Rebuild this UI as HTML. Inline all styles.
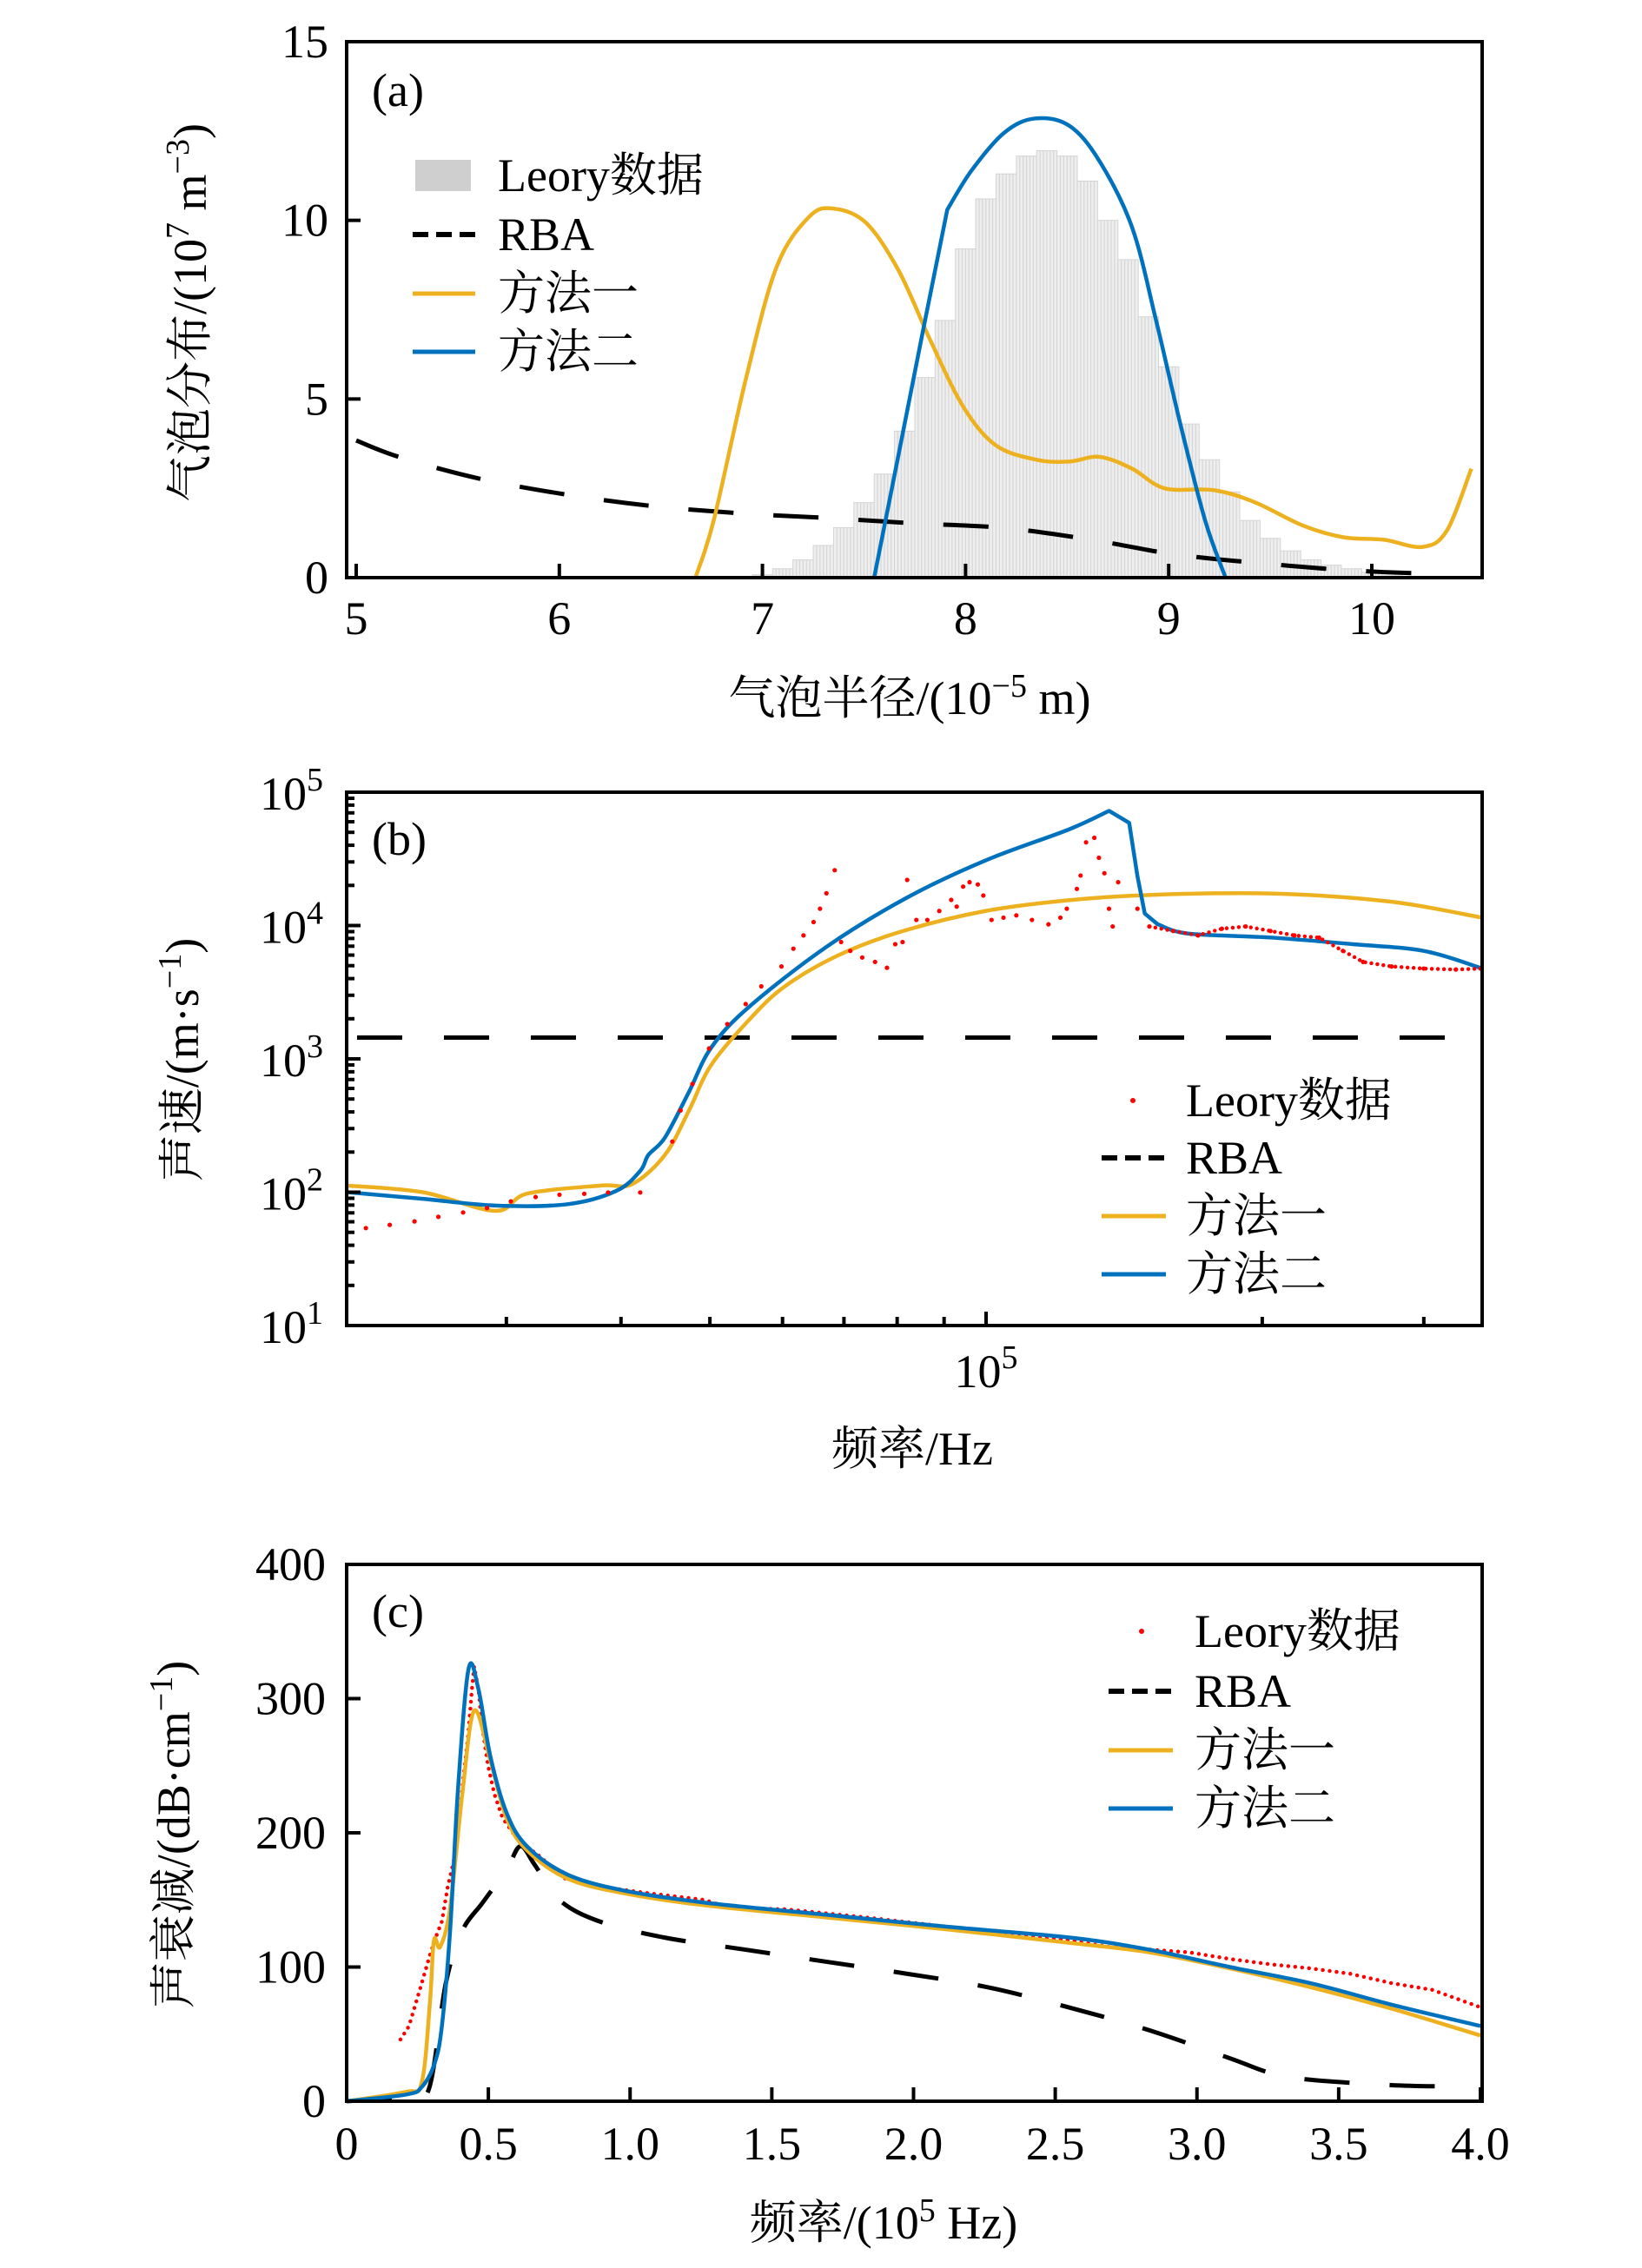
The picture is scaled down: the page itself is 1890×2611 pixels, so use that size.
<!DOCTYPE html>
<html><head><meta charset="utf-8"><style>
html,body{margin:0;padding:0;background:#fff;}
svg{display:block;}
text{font-family:"Liberation Serif","Noto Serif CJK SC",serif;fill:#000;}
</style></head><body>
<svg id="fig" width="1890" height="2611" viewBox="0 0 1890 2611" xmlns="http://www.w3.org/2000/svg">
<g id="pa"></g>
<g id="pb"></g>
<g id="pc"></g>
</svg>
<script>
// ---------- Panel (a) data ----------
const histRadius=[6.9,7.0,7.1,7.2,7.3,7.4,7.5,7.6,7.7,7.8,7.9,8.0,8.1,8.2,8.3,8.4,8.5,8.6,8.7,8.8,8.9,9.0,9.1,9.2,9.3,9.4,9.5,9.6,9.7,9.8,9.9,10.0,10.1,10.2];
const histValue=[0.02,0.08,0.25,0.5,0.9,1.4,2.1,2.9,4.1,5.6,7.2,9.2,10.6,11.3,11.8,11.95,11.8,11.1,10.0,8.9,7.3,5.9,4.3,3.3,2.4,1.6,1.1,0.75,0.5,0.35,0.25,0.15,0.08,0.03];
const aRbaX=[5,5.21,5.6,6.04,6.48,6.92,7.35,7.75,8.19,8.62,9.02,9.46,9.9,10.33];
const aRbaY=[3.84,3.38,2.78,2.32,1.99,1.79,1.66,1.52,1.39,1.06,0.66,0.40,0.2,0.1];
const aM1X=[6.67,6.76,6.92,7.07,7.23,7.35,7.51,7.67,7.83,7.99,8.15,8.35,8.51,8.66,8.82,8.98,9.22,9.42,9.66,9.86,10.06,10.25,10.37,10.49];
const aM1Y=[0,1.6,5.6,8.7,10.1,10.33,9.93,8.6,6.6,4.77,3.7,3.3,3.25,3.38,3.05,2.5,2.45,2.12,1.46,1.13,1.06,0.86,1.32,3.05];
const aM2X=[7.55,7.67,7.79,7.91,8.03,8.19,8.34,8.51,8.66,8.82,8.94,9.06,9.18,9.28];
const aM2Y=[0,3.44,6.9,10.3,11.4,12.45,12.85,12.65,11.65,9.8,7.15,4.24,1.59,0];
const aXTicks=[5,6,7,8,9,10];
const aYTicks=[0,5,10,15];
// ---------- Panel (b) data (log10 frequency / log10 speed) ----------
const bM1LogF=[4.304,4.386,4.465,4.5,4.58,4.614,4.65,4.676,4.70,4.74,4.78,4.84,4.91,5.0,5.09,5.18,5.31,5.44,5.54];
const bM1LogV=[2.05,2.0,1.86,1.99,2.05,2.06,2.28,2.61,2.95,3.28,3.54,3.78,3.96,4.11,4.19,4.23,4.24,4.18,4.06];
const bM2LogF=[4.304,4.386,4.465,4.544,4.597,4.623,4.632,4.65,4.676,4.70,4.74,4.826,4.914,5.0,5.09,5.134,5.156,5.165,5.173,5.187,5.22,5.31,5.40,5.477,5.54];
const bM2LogV=[2.0,1.95,1.9,1.91,2.01,2.16,2.28,2.41,2.75,3.08,3.38,3.84,4.21,4.49,4.72,4.86,4.77,4.37,4.09,4.01,3.94,3.91,3.86,3.81,3.68];
const bRbaSpeed=1445;
const bDataLogF=[4.324,4.350,4.377,4.403,4.430,4.456,4.482,4.509,4.535,4.562,4.588,4.623,4.658,4.667,4.680,4.698,4.718,4.738,4.755,4.777,4.790,4.801,4.812,4.819,4.826,4.835,4.842,4.852,4.865,4.879,4.892,4.901,4.909,4.914,4.924,4.936,4.949,4.962,4.968,4.975,4.982,4.991,4.997,5.006,5.019,5.033,5.050,5.068,5.081,5.088,5.099,5.103,5.109,5.118,5.123,5.129,5.134,5.138,5.144,5.165,5.178,5.204,5.231,5.257,5.283,5.310,5.336,5.363,5.389,5.411,5.442,5.477,5.512,5.539];
const bDataLogV=[1.731,1.755,1.781,1.815,1.848,1.881,1.931,1.964,1.981,1.988,1.998,1.998,2.380,2.613,2.812,3.078,3.261,3.411,3.544,3.693,3.826,3.926,4.026,4.126,4.242,4.415,3.876,3.810,3.760,3.727,3.683,3.860,3.876,4.342,4.042,4.042,4.109,4.192,4.142,4.292,4.325,4.308,4.225,4.042,4.059,4.076,4.042,4.009,4.059,4.126,4.275,4.375,4.624,4.658,4.508,4.392,4.126,3.993,4.325,4.126,3.993,3.959,3.926,3.976,3.993,3.959,3.926,3.909,3.810,3.727,3.693,3.677,3.670,3.677];
const bYTicks=[1,2,3,4,5];
const bXMinor=[30000,40000,50000,60000,70000,80000,90000,200000,300000];
// ---------- Panel (c) data ----------
const cM2X=[0,0.21,0.265,0.31,0.336,0.365,0.393,0.43,0.465,0.507,0.564,0.636,0.778,0.978,1.263,1.69,2.12,2.55,2.83,3.116,3.4,3.686,4.0];
const cM2Y=[0,5,10.6,28,56,127,233,322,307,257,215,190,169,157,148,139,130,122,113,100,88,72,56];
const cM1X=[0,0.21,0.265,0.294,0.308,0.33,0.365,0.408,0.45,0.507,0.564,0.636,0.778,0.978,1.263,1.69,2.12,2.55,2.83,3.116,3.4,3.686,4.0];
const cM1Y=[0,7,14,74,120,115,144,229,291,254,211,187,166,155,146,137,128,118,111,99,85,69,49];
const cRbaX=[0,0.21,0.29,0.35,0.408,0.48,0.565,0.613,0.664,0.75,0.892,1.12,1.405,1.69,1.976,2.26,2.546,2.83,3.116,3.26,3.4,3.686,3.886];
const cRbaY=[0,3.5,9,88,127,148,173,190,176,150,134,122,113,104,95,85,70,53,32,21,16,12,11];
const cDataX=[0.19,0.22,0.265,0.294,0.316,0.336,0.356,0.379,0.393,0.413,0.43,0.442,0.45,0.465,0.479,0.499,0.521,0.55,0.607,0.678,0.77,0.89,1.063,1.263,1.35,1.55,1.83,2.12,2.26,2.55,2.69,2.83,2.97,3.116,3.26,3.4,3.54,3.686,3.83,4.0];
const cDataY=[46,56,88,109,123,134,159,180,201,243,275,307,324,307,278,250,229,211,194,183,166,160,155,150,144,143,137,130,125,120,115,113,111,106,102,99,95,88,83,70];
const cXTicks=[0,0.5,1.0,1.5,2.0,2.5,3.0,3.5,4.0];
const cXLabels=["0","0.5","1.0","1.5","2.0","2.5","3.0","3.5","4.0"];
const cYTicks=[0,100,200,300,400];

const NS="http://www.w3.org/2000/svg";
const ORANGE="#EDB120",BLUE="#0072BD";
function mk(parent,tag,attrs){const e=document.createElementNS(NS,tag);for(const k in attrs)e.setAttribute(k,attrs[k]);parent.appendChild(e);return e;}
function txt(parent,x,y,s,size,anchor){const t=mk(parent,"text",{x:x,y:y,"font-size":size,"text-anchor":anchor||"middle"});t.textContent=s;return t;}
function smoothSeg(pts,move){let d=move?"M"+pts[0][0]+","+pts[0][1]:"";for(let i=0;i<pts.length-1;i++){const p0=pts[i-1]||pts[i],p1=pts[i],p2=pts[i+1],p3=pts[i+2]||p2;const c1x=p1[0]+(p2[0]-p0[0])/6,c1y=p1[1]+(p2[1]-p0[1])/6,c2x=p2[0]-(p3[0]-p1[0])/6,c2y=p2[1]-(p3[1]-p1[1])/6;d+=" C"+c1x+","+c1y+" "+c2x+","+c2y+" "+p2[0]+","+p2[1];}return d;}
function smooth(pts){return smoothSeg(pts,true);}
function poly(pts){return "M"+pts.map(p=>p[0]+","+p[1]).join(" L");}
const L=399,R=1706;

// ================= Panel A =================
(function(){
const g=document.getElementById("pa");
const T=48,B=665;
const sx=v=>410+(v-5)*233.8, sy=v=>B-(v/15)*(B-T);
const bars=mk(g,"g",{});


histRadius.forEach((r,i)=>{
  const x0=sx(r-0.05),x1=sx(r+0.05);
  const b=mk(bars,"rect",{x:x0,y:sy(histValue[i]),width:x1-x0,height:B-sy(histValue[i]),fill:"#eeeeee",stroke:"#d4d4d4","stroke-width":1});
  
  
  for(let k=1;k<6;k++){mk(bars,"line",{x1:x0+(x1-x0)*k/6,x2:x0+(x1-x0)*k/6,y1:sy(histValue[i]),y2:B,stroke:"#d6d6d6","stroke-width":1.2});}
});
const rba=mk(g,"path",{d:smooth(aRbaX.map((v,i)=>[sx(v),sy(aRbaY[i])])),fill:"none",stroke:"#000","stroke-width":5,"stroke-dasharray":"52 46"});


const m1=mk(g,"path",{d:smooth(aM1X.map((v,i)=>[sx(v),sy(aM1Y[i])])),fill:"none",stroke:ORANGE,"stroke-width":4.5});


const p2=aM2X.map((v,i)=>[sx(v),sy(aM2Y[i])]);
const m2=mk(g,"path",{d:poly(p2.slice(0,4))+smoothSeg(p2.slice(3),false),fill:"none",stroke:BLUE,"stroke-width":4.5,"stroke-linejoin":"round"});


const fr=mk(g,"rect",{x:L,y:T,width:R-L,height:B-T,fill:"none",stroke:"#000","stroke-width":4});


aXTicks.forEach(v=>{mk(g,"line",{x1:sx(v),x2:sx(v),y1:B,y2:B-16,stroke:"#000","stroke-width":4});
  const t=txt(g,sx(v),730,String(v),54);});
aYTicks.forEach(v=>{mk(g,"line",{x1:L,x2:L+16,y1:sy(v),y2:sy(v),stroke:"#000","stroke-width":4});
  const t=txt(g,378,sy(v)+18,String(v),54,"end");});
const xt=mk(g,"text",{x:1047,y:822,"font-size":54,"text-anchor":"middle"});
xt.innerHTML='气泡半径/(10<tspan dy="-20" font-size="38">−5</tspan><tspan dy="20"> m)</tspan>';


const yt=mk(g,"text",{x:0,y:0,"font-size":54,"text-anchor":"middle",transform:"translate(237,360) rotate(-90)"});
yt.innerHTML='气泡分布/(10<tspan dy="-20" font-size="38">7</tspan><tspan dy="20"> m</tspan><tspan dy="-20" font-size="38">−3</tspan><tspan dy="20">)</tspan>';


const pl=txt(g,428,122,"(a)",54,"start");
const lg=mk(g,"g",{});
mk(lg,"rect",{x:478,y:184,width:64,height:36,fill:"#cfcfcf"});
mk(lg,"line",{x1:475,x2:547,y1:270,y2:270,stroke:"#000","stroke-width":6,"stroke-dasharray":"18 9"});
mk(lg,"line",{x1:475,x2:547,y1:338,y2:338,stroke:ORANGE,"stroke-width":5});
mk(lg,"line",{x1:475,x2:547,y1:405,y2:405,stroke:BLUE,"stroke-width":5});
["Leory数据","RBA","方法一","方法二"].forEach((s,i)=>{const t=txt(lg,573,[220,288,356,423][i],s,54,"start");});
})();

// ================= Panel B =================
(function(){
const g=document.getElementById("pb");
const T=912,B=1526;
const sx=lf=>1135+(lf-5)*1056, sy=lv=>B-(lv-1)*(B-T)/4;
const rba=mk(g,"line",{x1:L+12,x2:R-25,y1:sy(Math.log10(bRbaSpeed)),y2:sy(Math.log10(bRbaSpeed)),stroke:"#000","stroke-width":5,"stroke-dasharray":"52 48"});


const m1=mk(g,"path",{d:smooth(bM1LogF.map((v,i)=>[sx(v),sy(bM1LogV[i])])),fill:"none",stroke:ORANGE,"stroke-width":4.5});


const q=bM2LogF.map((v,i)=>[sx(v),sy(bM2LogV[i])]);
const m2d=smooth(q.slice(0,16))+" L"+q.slice(16,20).map(p=>p[0]+","+p[1]).join(" L")+smoothSeg(q.slice(19),false);
const m2=mk(g,"path",{d:m2d,fill:"none",stroke:BLUE,"stroke-width":4.5,"stroke-linejoin":"round"});


const dots=mk(g,"g",{fill:"#ff0000"});


bDataLogF.forEach((v,i)=>{const c=mk(dots,"circle",{cx:sx(v),cy:sy(bDataLogV[i]),r:2.6});
  
  });
const dl=mk(g,"path",{d:poly(bDataLogF.slice(60).map((v,i)=>[sx(v),sy(bDataLogV[60+i])])),fill:"none",stroke:"#ff0000","stroke-width":4.5,"stroke-dasharray":"0 7","stroke-linecap":"round"});


const fr=mk(g,"rect",{x:L,y:T,width:R-L,height:B-T,fill:"none",stroke:"#000","stroke-width":4});


bYTicks.forEach(d=>{
  mk(g,"line",{x1:L,x2:L+16,y1:sy(d),y2:sy(d),stroke:"#000","stroke-width":4});
  if(d<5){for(let k=2;k<10;k++){const yy=sy(d+Math.log10(k));mk(g,"line",{x1:L,x2:L+9,y1:yy,y2:yy,stroke:"#000","stroke-width":4});}}
  const t=mk(g,"text",{x:372,y:sy(d)+20,"font-size":54,"text-anchor":"end"});
  t.innerHTML='10<tspan dy="-22" font-size="38">'+d+'</tspan>';
  
  
});
mk(g,"line",{x1:sx(5),x2:sx(5),y1:B,y2:B-16,stroke:"#000","stroke-width":4});
bXMinor.forEach(f=>{mk(g,"line",{x1:sx(Math.log10(f)),x2:sx(Math.log10(f)),y1:B,y2:B-10,stroke:"#000","stroke-width":4});});
const xl=mk(g,"text",{x:1135,y:1597,"font-size":54,"text-anchor":"middle"});
xl.innerHTML='10<tspan dy="-22" font-size="38">5</tspan>';


const xt=txt(g,1050,1686,"频率/Hz",54);
const yt=mk(g,"text",{x:0,y:0,"font-size":54,"text-anchor":"middle",transform:"translate(228,1220) rotate(-90)"});
yt.innerHTML='声速/(m·s<tspan dy="-20" font-size="38">−1</tspan><tspan dy="20">)</tspan>';


const pl=txt(g,428,984,"(b)",54,"start");
const lg=mk(g,"g",{});
mk(lg,"circle",{cx:1304,cy:1267,r:3,fill:"#ff0000"});
mk(lg,"line",{x1:1268,x2:1342,y1:1333,y2:1333,stroke:"#000","stroke-width":6,"stroke-dasharray":"18 9"});
mk(lg,"line",{x1:1268,x2:1342,y1:1400,y2:1400,stroke:ORANGE,"stroke-width":5});
mk(lg,"line",{x1:1268,x2:1342,y1:1467,y2:1467,stroke:BLUE,"stroke-width":5});
["Leory数据","RBA","方法一","方法二"].forEach((s,i)=>{const t=txt(lg,1365,[1285,1351,1418,1485][i],s,54,"start");});
})();

// ================= Panel C =================
(function(){
const g=document.getElementById("pc");
const T=1801,B=2419;
const sx=v=>399+v*326.25, sy=v=>B-v*(B-T)/400;
const rba=mk(g,"path",{d:smooth(cRbaX.map((v,i)=>[sx(v),sy(cRbaY[i])])),fill:"none",stroke:"#000","stroke-width":5,"stroke-dasharray":"52 46"});


const dl=mk(g,"path",{d:poly(cDataX.map((v,i)=>[sx(v),sy(cDataY[i])])),fill:"none",stroke:"#ff0000","stroke-width":4.5,"stroke-dasharray":"0 8","stroke-linecap":"round"});


const m1=mk(g,"path",{d:smooth(cM1X.map((v,i)=>[sx(v),sy(cM1Y[i])])),fill:"none",stroke:ORANGE,"stroke-width":4.5});


const m2=mk(g,"path",{d:smooth(cM2X.map((v,i)=>[sx(v),sy(cM2Y[i])])),fill:"none",stroke:BLUE,"stroke-width":4.5});


const fr=mk(g,"rect",{x:L,y:T,width:R-L,height:B-T,fill:"none",stroke:"#000","stroke-width":4});


cXTicks.forEach((v,i)=>{mk(g,"line",{x1:sx(v),x2:sx(v),y1:B,y2:B-16,stroke:"#000","stroke-width":4});
  const t=txt(g,sx(v),2486,cXLabels[i],54);});
cYTicks.forEach(v=>{mk(g,"line",{x1:L,x2:L+16,y1:sy(v),y2:sy(v),stroke:"#000","stroke-width":4});
  const t=txt(g,375,sy(v)+18,String(v),54,"end");});
const xt=mk(g,"text",{x:1017,y:2577,"font-size":54,"text-anchor":"middle"});
xt.innerHTML='频率/(10<tspan dy="-20" font-size="38">5</tspan><tspan dy="20"> Hz)</tspan>';


const yt=mk(g,"text",{x:0,y:0,"font-size":54,"text-anchor":"middle",transform:"translate(218,2112) rotate(-90)"});
yt.innerHTML='声衰减/(dB·cm<tspan dy="-20" font-size="38">−1</tspan><tspan dy="20">)</tspan>';


const pl=txt(g,428,1873,"(c)",54,"start");
const lg=mk(g,"g",{});
mk(lg,"circle",{cx:1314,cy:1878,r:3,fill:"#ff0000"});
mk(lg,"line",{x1:1276,x2:1350,y1:1947,y2:1947,stroke:"#000","stroke-width":6,"stroke-dasharray":"18 9"});
mk(lg,"line",{x1:1276,x2:1350,y1:2015,y2:2015,stroke:ORANGE,"stroke-width":5});
mk(lg,"line",{x1:1276,x2:1350,y1:2082,y2:2082,stroke:BLUE,"stroke-width":5});
["Leory数据","RBA","方法一","方法二"].forEach((s,i)=>{const t=txt(lg,1375,[1896,1965,2033,2100][i],s,54,"start");});
})();
</script>
</body></html>
